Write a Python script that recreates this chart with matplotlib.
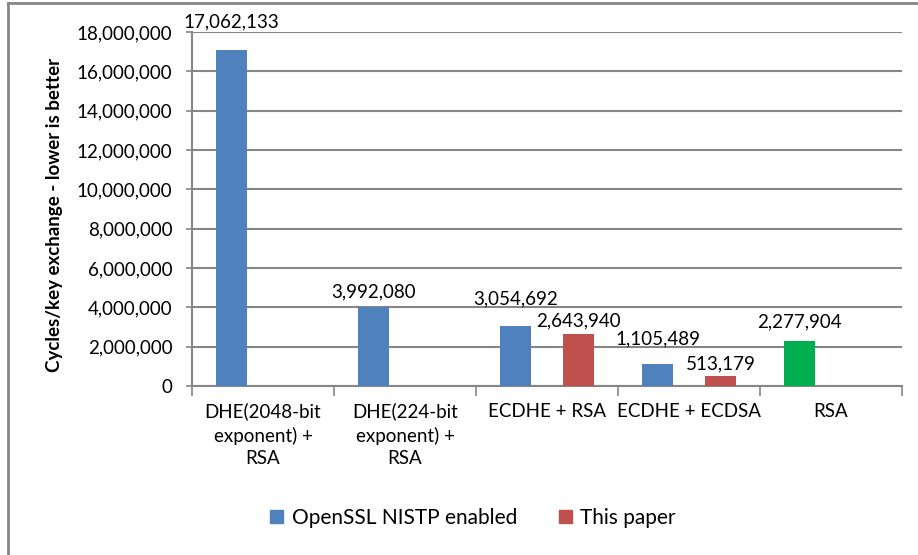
import matplotlib
import numpy as np
import matplotlib.pyplot as plt
from matplotlib.lines import Line2D
from matplotlib.patches import Patch

matplotlib.use('Agg')

categories = ['DHE(2048-bit\nexponent) +\nRSA', 'DHE(224-bit\nexponent) +\nRSA',
              'ECDHE + RSA', 'ECDHE + ECDSA', 'RSA']
openssl = [17062133, 3992080, 3054692, 1105489, 2277904]
this_paper = [None, None, 2643940, 513179, None]
series_names = ['OpenSSL NISTP enabled', 'This paper']

# подписи в оригинале сдвинуты вручную: зазор над столбцом, px
gap_openssl = [23, 10, 22, 20, 14]
gap_paper = [0, 0, 8, 7, 0]

blue = '#4F81BD'
red = '#C0504D'
green = '#00B050'
grey = '#868686'

plt.rcParams['font.family'] = ['Lato', 'DejaVu Sans']
fs = 13.5

fig = plt.figure(figsize=(9.18, 5.55), dpi=100)
ax = fig.add_axes([192 / 918, 1 - 386 / 555, 710 / 918, 354 / 555])

x = np.arange(len(categories))
w = 0.218
off = 0.222

# последний столбец в Excel перекрашен в зелёный
bar_colors = [blue] * (len(categories) - 1) + [green]
for i in range(len(categories)):
    v = openssl[i]
    ax.bar(x[i] - off, v, w, color=bar_colors[i], zorder=3)
    ax.annotate(f'{v:,}', (x[i] - off, v), xytext=(0, gap_openssl[i] * 0.72),
                textcoords='offset points', ha='center', va='baseline', fontsize=fs,
                annotation_clip=False)
    v = this_paper[i]
    if v is not None:
        ax.bar(x[i] + off, v, w, color=red, zorder=3)
        ax.annotate(f'{v:,}', (x[i] + off, v), xytext=(0, gap_paper[i] * 0.72),
                    textcoords='offset points', ha='center', va='baseline', fontsize=fs)

ax.set_xlim(-0.5, len(categories) - 0.5)
ax.set_ylim(0, 18000000)
ax.set_yticks(np.arange(0, 18000001, 2000000))
ax.set_yticklabels([f'{int(t):,}' for t in np.arange(0, 18000001, 2000000)], fontsize=fs)
ax.yaxis.grid(True, color=grey, linewidth=1.5, zorder=0)

ax.set_xticks(np.arange(-0.5, len(categories), 1.0))
ax.set_xticklabels([])
ax.set_xticks(x, minor=True)
ax.set_xticklabels(categories, minor=True, fontsize=fs, linespacing=1.4, va='top')
ax.tick_params(axis='x', which='major', length=7, color=grey, width=1.2)
ax.tick_params(axis='x', which='minor', length=0, pad=12)
ax.tick_params(axis='y', length=4, color=grey, width=1.2, pad=10)

for s in ['top', 'right']:
    ax.spines[s].set_visible(False)
for s in ['left', 'bottom']:
    ax.spines[s].set_color(grey)
    ax.spines[s].set_linewidth(1.5)

ax.set_ylabel('Cycles/key exchange - lower is better', fontsize=13.5, fontweight='bold')
ax.yaxis.set_label_coords(-0.182, 0.482)

handles = [Patch(color=blue), Patch(color=red)]
fig.legend(handles, series_names, loc='center', bbox_to_anchor=(473 / 918, 1 - 518 / 555),
           ncol=2, frameon=False, fontsize=15, handlelength=0.62, handleheight=0.62,
           handletextpad=0.4, columnspacing=2.0)

# рамка диаграммы (видна только слева и сверху)
fig.add_artist(Line2D([8 / 918, 8 / 918], [0, 1 - 3 / 555], color=grey, linewidth=2,
                      transform=fig.transFigure))
fig.add_artist(Line2D([8 / 918, 1], [1 - 3 / 555, 1 - 3 / 555], color=grey, linewidth=2,
                      transform=fig.transFigure))

plt.savefig('out.png', dpi=100)
